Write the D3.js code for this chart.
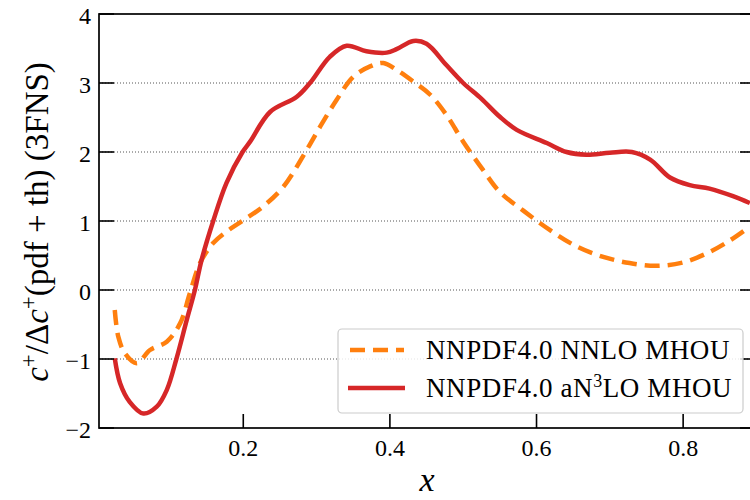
<!DOCTYPE html>
<html><head><meta charset="utf-8">
<script src="https://cdn.jsdelivr.net/npm/d3@7"></script>
<style>body{margin:0;background:#fff}svg{display:block}</style>
</head><body>
<svg id="c" width="750" height="500"></svg>
<script>
const nnloX = [0.0247,0.0296,0.0387,0.0547,0.0728,0.0956,0.114,0.127,0.141,0.159,0.177,0.2,0.227,0.255,0.2865,0.305,0.327,0.35,0.373,0.391,0.409,0.432,0.455,0.477,0.5,0.527,0.55,0.582,0.618,0.655,0.691,0.727,0.764,0.8,0.832,0.864,0.891];
const nnloY = [-0.29,-0.68,-0.92,-1.06,-0.87,-0.75,-0.48,-0.05,0.39,0.68,0.845,1.01,1.21,1.50,2.03,2.37,2.75,3.09,3.24,3.29,3.19,3.02,2.83,2.54,2.15,1.74,1.42,1.15,0.87,0.63,0.48,0.39,0.35,0.40,0.53,0.72,0.92];
const n3loX = [0.0247,0.032,0.045,0.0637,0.082,0.0956,0.109,0.123,0.134,0.143,0.159,0.177,0.199,0.2093,0.2365,0.273,0.291,0.318,0.341,0.368,0.3956,0.409,0.432,0.45,0.477,0.5,0.525,0.55,0.573,0.614,0.641,0.668,0.7,0.73,0.755,0.782,0.809,0.836,0.868,0.891];
const n3loY = [-0.99,-1.35,-1.62,-1.79,-1.69,-1.45,-0.99,-0.43,0.0,0.43,1.0,1.55,2.0,2.15,2.58,2.80,3.0,3.38,3.54,3.46,3.44,3.49,3.61,3.57,3.26,3.0,2.77,2.51,2.32,2.13,2.0,1.96,1.99,2.0,1.89,1.63,1.52,1.47,1.36,1.26];
const xTicks = [0.2,0.4,0.6,0.8];
const yTicks = [-2,-1,0,1,2,3,4];
const seriesNames = ["NNPDF4.0 NNLO MHOU","NNPDF4.0 aN3LO MHOU"];
const colors = ["#ff7f0e","#d62728"];

const svg = d3.select("#c");
const L=99, R=750, T=14, B=428;
const x = d3.scaleLinear().domain([0.0032,0.8912]).range([L,R]);
const y = d3.scaleLinear().domain([-2,4]).range([B,T]);
const font = "'Liberation Serif','DejaVu Serif',serif";

svg.append("defs").append("clipPath").attr("id","clip")
  .append("rect").attr("x",L).attr("y",T).attr("width",R-L).attr("height",B-T);

// grid
svg.append("g").selectAll("line").data(yTicks.filter(v=>v>-2&&v<4)).join("line")
  .attr("x1",L).attr("x2",R).attr("y1",d=>y(d)).attr("y2",d=>y(d))
  .attr("stroke","#555").attr("stroke-width",1).attr("stroke-dasharray","1,2");

const line = d3.line().curve(d3.curveCatmullRom.alpha(0.5));
const g = svg.append("g").attr("clip-path","url(#clip)");
g.append("path").attr("d", line(nnloX.map((v,i)=>[x(v),y(nnloY[i])])))
  .attr("fill","none").attr("stroke",colors[0]).attr("stroke-width",4.5).attr("stroke-dasharray","15,8");
g.append("path").attr("d", line(n3loX.map((v,i)=>[x(v),y(n3loY[i])])))
  .attr("fill","none").attr("stroke",colors[1]).attr("stroke-width",4.5);

// axes
const ax = svg.append("g");
ax.append("rect").attr("x",L).attr("y",T).attr("width",R-L+2).attr("height",B-T)
  .attr("fill","none").attr("stroke","#000").attr("stroke-width",1.7);
ax.selectAll(".xt").data(xTicks).join("line")
  .attr("x1",d=>x(d)).attr("x2",d=>x(d)).attr("y1",B).attr("y2",B-14).attr("stroke","#000").attr("stroke-width",1.6);
ax.selectAll(".yt").data(yTicks).join("line")
  .attr("x1",L).attr("x2",L+15).attr("y1",d=>y(d)).attr("y2",d=>y(d)).attr("stroke","#000").attr("stroke-width",1.6);
ax.selectAll(".ytr").data(yTicks).join("line")
  .attr("x1",R-10).attr("x2",R).attr("y1",d=>y(d)).attr("y2",d=>y(d)).attr("stroke","#000").attr("stroke-width",1.6);

ax.selectAll(".xl").data(xTicks).join("text")
  .attr("x",d=>x(d)).attr("y",456).attr("text-anchor","middle")
  .attr("font-family",font).attr("font-size",24).text(d=>d3.format(".1f")(d));
ax.selectAll(".yl").data(yTicks).join("text")
  .attr("x",91).attr("y",d=>y(d)+10).attr("text-anchor","end")
  .attr("font-family",font).attr("font-size",24).text(d=>d<0?"\u2212"+(-d):d);

svg.append("text").attr("x",427).attr("y",491).attr("text-anchor","middle")
  .attr("font-family",font).attr("font-style","italic").attr("font-size",34).text("x");

const yl = svg.append("text").attr("transform","translate(48,222) rotate(-90)")
  .attr("text-anchor","middle").attr("font-family",font).attr("font-size",33);
yl.append("tspan").attr("font-style","italic").text("c");
yl.append("tspan").attr("dy",-12).attr("font-size",23).text("+");
yl.append("tspan").attr("dy",12).text("/\u0394");
yl.append("tspan").attr("font-style","italic").text("c");
yl.append("tspan").attr("dy",-12).attr("font-size",23).text("+");
yl.append("tspan").attr("dy",12).text("(pdf + th) (3FNS)");

// legend
const lg = svg.append("g");
lg.append("rect").attr("x",338).attr("y",329).attr("width",405).attr("height",84).attr("rx",4)
  .attr("fill","#fff").attr("fill-opacity",0.85).attr("stroke","#ccc").attr("stroke-width",1.2);
lg.append("line").attr("x1",350).attr("x2",404).attr("y1",350).attr("y2",350)
  .attr("stroke",colors[0]).attr("stroke-width",4.5).attr("stroke-dasharray","15,8");
lg.append("line").attr("x1",348).attr("x2",405).attr("y1",388).attr("y2",388)
  .attr("stroke",colors[1]).attr("stroke-width",4.5);
lg.append("text").attr("x",426).attr("y",359).attr("font-family",font).attr("font-size",27)
  .attr("letter-spacing",0.6).text(seriesNames[0]);
const t2 = lg.append("text").attr("x",426).attr("y",397).attr("font-family",font).attr("font-size",27).attr("letter-spacing",0.6);
t2.append("tspan").text("NNPDF4.0 aN");
t2.append("tspan").attr("dy",-10).attr("font-size",18).text("3");
t2.append("tspan").attr("dy",10).text("LO MHOU");
</script>
</body></html>
